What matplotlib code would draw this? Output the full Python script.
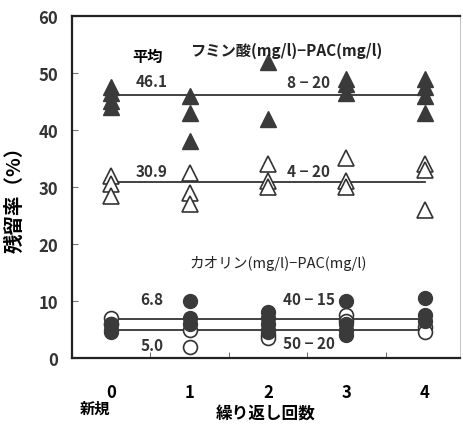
import matplotlib
matplotlib.use('Agg')
import matplotlib.pyplot as plt

plt.rcParams['font.family'] = ['Noto Sans CJK JP', 'DejaVu Sans']

# repeat count (x) and removal rates (%)
humic_8_20_x = [0, 0, 0, 0, 1, 1, 1, 2, 2, 3, 3, 3, 4, 4, 4, 4]
humic_8_20_y = [47.5, 46.5, 45, 44, 46, 43, 38, 52, 42, 49, 48, 46.5, 49, 47.5, 46, 43]
humic_4_20_x = [0, 0, 0, 1, 1, 1, 2, 2, 2, 3, 3, 3, 4, 4, 4]
humic_4_20_y = [32, 30.5, 28.5, 32.5, 29, 27, 34, 31, 30, 35, 31, 30, 34, 33, 26]
kaolin_40_15_x = [0, 0, 0, 1, 1, 1, 2, 2, 2, 2, 2, 3, 3, 3, 3, 4, 4, 4]
kaolin_40_15_y = [6, 5, 4.5, 10, 7, 6, 8, 7, 6, 5, 4.5, 10, 6, 5, 4, 10.5, 7.5, 6.5]
kaolin_50_20_x = [0, 0, 1, 1, 2, 2, 3, 3, 4, 4]
kaolin_50_20_y = [7, 6, 5, 2, 4, 3.5, 7.5, 6.5, 5.5, 4.5]

means = [46.1, 30.9, 6.8, 5.0]
mean_labels = ['46.1', '30.9', '6.8', '5.0']
mean_label_y = [48.6, 32.8, 10.4, 2.3]
cond_labels = ['8 − 20', '4 − 20', '40 − 15', '50 − 20']
cond_label_y = [48.4, 32.8, 10.4, 2.6]

x_ticks = [0, 1, 2, 3, 4]
y_ticks = [0, 10, 20, 30, 40, 50, 60]

fig = plt.figure(figsize=(4.63, 4.31), dpi=100)
ax = fig.add_axes([0.1555, 0.167, 0.838, 0.7936])

fill_c = '#3a3a3a'
ax.plot(humic_8_20_x, humic_8_20_y, '^', ms=11, color=fill_c, mec=fill_c, zorder=3)
ax.plot(humic_4_20_x, humic_4_20_y, '^', ms=11, mfc='white', mec='#333333', mew=1.2, zorder=3)
ax.plot(kaolin_50_20_x, kaolin_50_20_y, 'o', ms=10, mfc='white', mec='#333333', mew=1.2, zorder=3)
ax.plot(kaolin_40_15_x, kaolin_40_15_y, 'o', ms=10, color=fill_c, mec=fill_c, zorder=3)

for m in means:
    ax.plot([0, 4], [m, m], color='#222222', lw=1.2, zorder=2)

for lab, yy in zip(mean_labels, mean_label_y):
    ax.text(0.52, yy, lab, ha='center', va='center', fontsize=11, fontweight='bold', color='#333333')
for lab, yy in zip(cond_labels, cond_label_y):
    ax.text(2.52, yy, lab, ha='center', va='center', fontsize=11, fontweight='bold', color='#333333')

ax.text(0.47, 53.0, '平均', ha='center', va='center', fontsize=11, fontweight='bold')
ax.text(1.0, 54.0, 'フミン酸(mg/l)−PAC(mg/l)', ha='left', va='center', fontsize=11, fontweight='bold', color='#222222')
ax.text(1.0, 16.8, 'カオリン(mg/l)−PAC(mg/l)', ha='left', va='center', fontsize=10.5, color='#222222')

ax.set_xlim(-0.5, 4.45)
ax.set_ylim(0, 60)
ax.set_xticks(x_ticks)
ax.set_xticklabels([str(v) for v in x_ticks], fontsize=12, fontweight='bold')
ax.set_xticks([0.5, 1.5, 2.5, 3.5], minor=True)
ax.tick_params(axis='x', which='major', length=0, pad=18)
ax.tick_params(axis='x', which='minor', direction='in', length=4, color='#555555')
ax.set_yticks(y_ticks)
ax.set_yticklabels([str(v) for v in y_ticks], fontsize=12, fontweight='bold', color='#333333')
ax.tick_params(axis='y', direction='in', length=4, color='#777777', pad=10)

for side in ['left', 'bottom', 'top']:
    ax.spines[side].set_linewidth(1.6)
    ax.spines[side].set_color('#222222')
ax.spines['right'].set_linewidth(0.6)
ax.spines['right'].set_color('#bbbbbb')

fig.text(15 / 463, 1 - 195 / 431, '残留率（%）', rotation=90, ha='center', va='center',
         fontsize=14, fontweight='bold')
ax.set_xlabel('繰り返し回数', fontsize=12, fontweight='bold', labelpad=2)
fig.text(95 / 463, 1 - 409 / 431, '新規', ha='center', va='center', fontsize=11, fontweight='bold')

fig.savefig('out.png', dpi=100)
